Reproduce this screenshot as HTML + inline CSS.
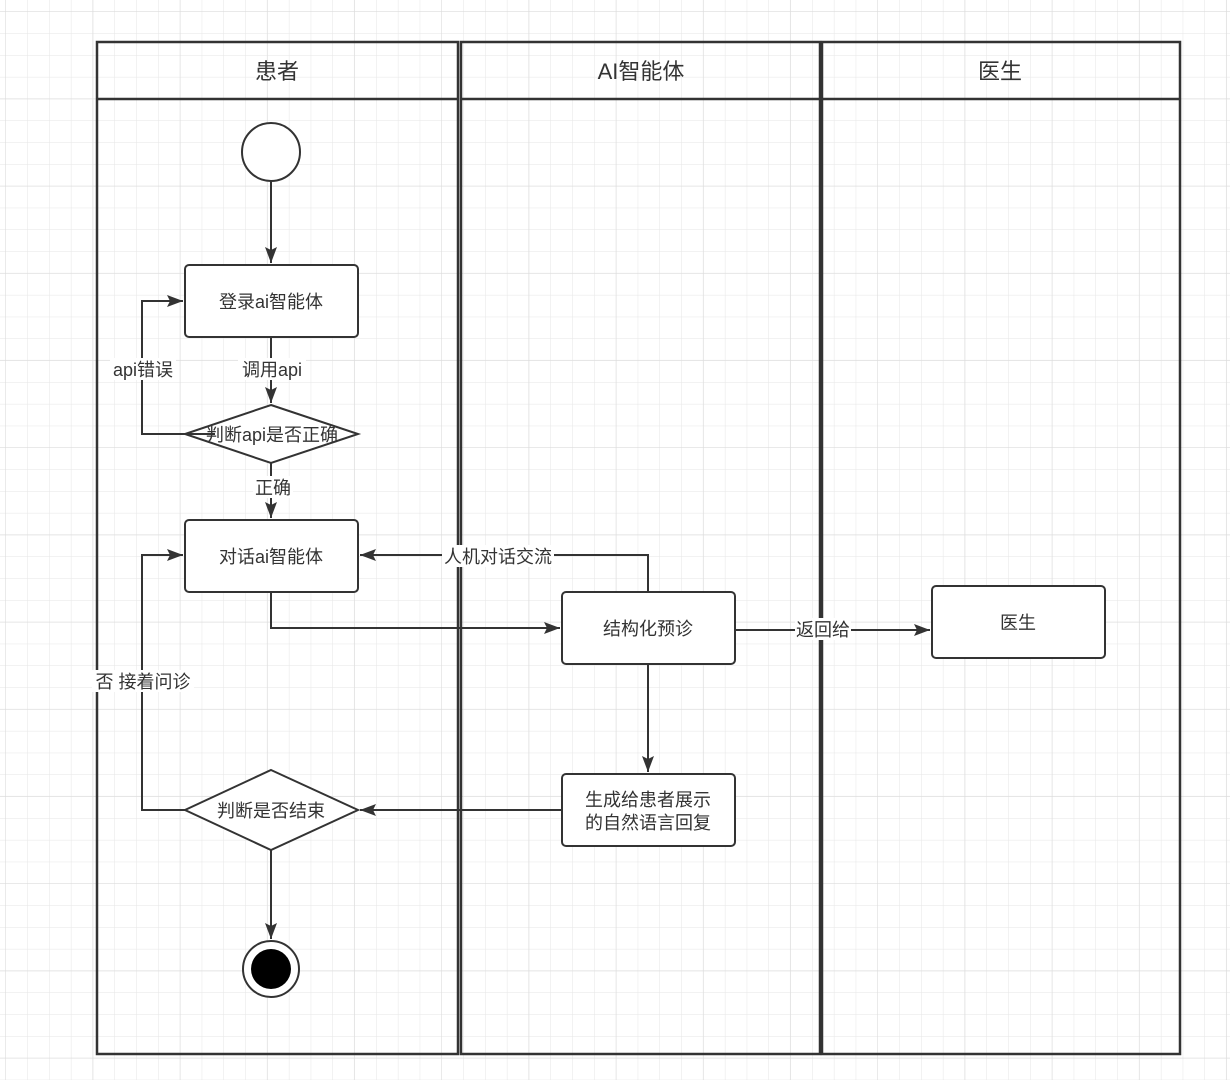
<!DOCTYPE html>
<html><head><meta charset="utf-8"><style>
html,body{margin:0;padding:0;background:#fff;}
svg text{font-family:"Liberation Sans","Noto Sans CJK SC",sans-serif;fill:#333;}
</style></head><body>
<svg width="1230" height="1080" viewBox="0 0 1230 1080" xmlns="http://www.w3.org/2000/svg">
<defs>
<pattern id="g" x="6" y="12" width="21.8" height="21.8" patternUnits="userSpaceOnUse">
<path d="M21.8 0V21.8H0" fill="none" stroke="#e6e6e6" stroke-width="1"/>
</pattern>
<pattern id="G" x="6" y="12" width="87.2" height="87.2" patternUnits="userSpaceOnUse">
<path d="M87.2 0V87.2H0" fill="none" stroke="#dcdcdc" stroke-width="1.2"/>
</pattern>
<marker id="a" viewBox="0 0 10 10" refX="10" refY="5" markerWidth="10" markerHeight="10" markerUnits="userSpaceOnUse" orient="auto">
<path d="M0 0L10 5L0 10L2.5 5Z" fill="#333"/>
</marker>
<marker id="b" viewBox="0 0 16 12" refX="16" refY="6" markerWidth="16" markerHeight="12" markerUnits="userSpaceOnUse" orient="auto">
<path d="M0 0L16 6L0 12L3 6Z" fill="#333"/>
</marker>
</defs>
<rect width="1230" height="1080" fill="url(#g)"/>
<rect width="1230" height="1080" fill="url(#G)"/>
<g fill="none" stroke="#333" stroke-width="2.5">
<rect x="97" y="42" width="361" height="1012"/>
<rect x="461" y="42" width="359" height="1012"/>
<rect x="822" y="42" width="358" height="1012"/>
<line x1="97" y1="99" x2="458" y2="99"/>
<line x1="461" y1="99" x2="820" y2="99"/>
<line x1="822" y1="99" x2="1180" y2="99"/>
</g>
<g font-size="22" text-anchor="middle">
<text x="277" y="79">患者</text>
<text x="641" y="79">AI智能体</text>
<text x="1000" y="79">医生</text>
</g>
<g fill="#fff" stroke="#333" stroke-width="2">
<circle cx="271" cy="152" r="29"/>
<rect x="185" y="265" width="173" height="72" rx="4"/>
<path d="M271 405L358 434L271 463L185 434Z"/>
<rect x="185" y="520" width="173" height="72" rx="4"/>
<rect x="562" y="592" width="173" height="72" rx="4"/>
<rect x="932" y="586" width="173" height="72" rx="4"/>
<rect x="562" y="774" width="173" height="72" rx="4"/>
<path d="M271 770L358 810L271 850L185 810Z"/>
<circle cx="271" cy="969" r="28"/>
</g>
<circle cx="271" cy="969" r="20" fill="#000"/>
<g fill="none" stroke="#333" stroke-width="2">
<line x1="271" y1="181" x2="271" y2="263" marker-end="url(#b)"/>
<line x1="271" y1="337" x2="271" y2="403" marker-end="url(#b)"/>
<polyline points="215,434 142,434 142,301 183,301" marker-end="url(#b)"/>
<line x1="271" y1="463" x2="271" y2="518" marker-end="url(#b)"/>
<polyline points="271,592 271,628 560,628" marker-end="url(#b)"/>
<polyline points="648,592 648,555 360,555" marker-end="url(#b)"/>
<line x1="735" y1="630" x2="930" y2="630" marker-end="url(#b)"/>
<line x1="648" y1="664" x2="648" y2="772" marker-end="url(#b)"/>
<line x1="562" y1="810" x2="360" y2="810" marker-end="url(#b)"/>
<polyline points="185,810 142,810 142,555 183,555" marker-end="url(#b)"/>
<line x1="271" y1="850" x2="271" y2="939" marker-end="url(#b)"/>
</g>
<g font-size="18" text-anchor="middle">
<text x="271" y="308">登录ai智能体</text>
<text x="271" y="563">对话ai智能体</text>
<text x="648" y="635">结构化预诊</text>
<text x="1018" y="629">医生</text>
<text x="648" y="806">生成给患者展示</text>
<text x="648" y="829">的自然语言回复</text>
<text x="271" y="817">判断是否结束</text>
</g>
<g font-size="18" text-anchor="middle">
<rect x="238" y="358" width="68" height="22" fill="#fff"/>
<text x="272" y="376">调用api</text>
<rect x="110" y="358" width="66" height="22" fill="#fff"/>
<text x="143" y="376">api错误</text>
<text x="272" y="441">判断api是否正确</text>
<rect x="253" y="476" width="40" height="22" fill="#fff"/>
<text x="273" y="494">正确</text>
<rect x="442" y="545" width="112" height="22" fill="#fff"/>
<text x="498" y="563">人机对话交流</text>
<rect x="795" y="618" width="56" height="22" fill="#fff"/>
<text x="823" y="636">返回给</text>
<rect x="92" y="670" width="102" height="22" fill="#fff"/>
<text x="143" y="688">否 接着问诊</text>
</g>
</svg>
</body></html>
